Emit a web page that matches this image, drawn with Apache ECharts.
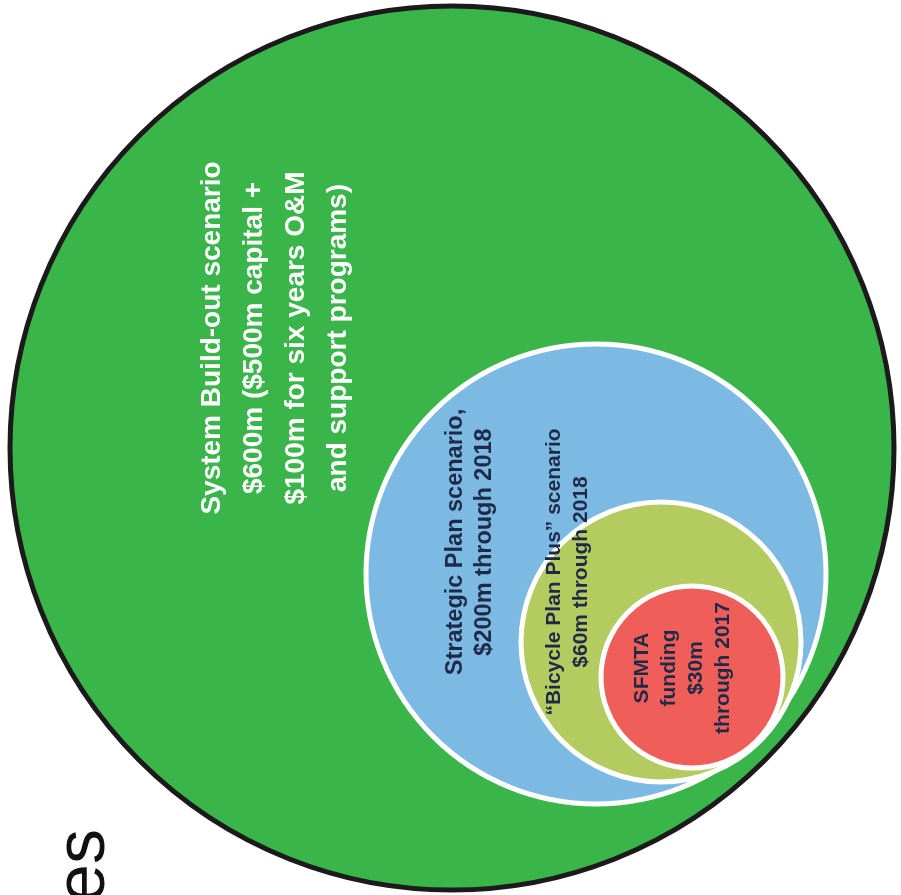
<!DOCTYPE html>
<html><head><meta charset="utf-8">
<script src="https://cdn.jsdelivr.net/npm/echarts@6/dist/echarts.min.js"></script>
<style>html,body{margin:0;padding:0;background:#fff}#c{width:901px;height:895px}</style>
</head><body><div id="c"></div>
<script>
// Scenarios (funding in $m) and their nested-circle geometry, in chart units
const scenarios = ['System Build-out scenario', 'Strategic Plan scenario', 'Bicycle Plan Plus scenario', 'SFMTA funding'];
const fundingM = [600, 200, 60, 30];
const centerX = [452, 596, 661, 692];
const centerY = [448, 574, 642, 677];
const radius = [442, 230, 140, 91];
// Label text (one entry per circle) and label anchor points, in chart units
const labelText = [
  'System Build-out scenario\n$600m ($500m capital +\n$100m for six years O&M\nand support programs)',
  'Strategic Plan scenario,\n$200m through 2018',
  '\u201cBicycle Plan Plus\u201d scenario\n$60m through 2018',
  'SFMTA\nfunding\n$30m\nthrough 2017'
];
const labelX = [275, 470, 568, 683];
const labelY = [338, 542, 572, 668];
const captionText = 'es';
const captionX = [85];
const captionY = [829];

const fills = ['#39b54a', '#7cb9e3', '#b4cc5f', '#f05e5a'];
const strokes = ['#1c1a1a', '#ffffff', '#ffffff', '#ffffff'];
const strokeW = [5, 5, 5, 5];
const textColors = ['#ffffff', '#1f2a48', '#1f2a48', '#1f2a48'];
const fontSizes = [28, 23.5, 21, 21];
const lineHeights = [42, 29, 27, 27];

const chart = echarts.init(document.getElementById('c'), null, {renderer: 'canvas'});
chart.setOption({
  animation: false,
  grid: {left: 0, right: 0, top: 0, bottom: 0},
  xAxis: {type: 'value', min: 0, max: 901, show: false},
  yAxis: {type: 'value', min: 0, max: 895, inverse: true, show: false},
  series: [
    {
      type: 'custom', clip: false,
      data: centerX.map((x, i) => [x, centerY[i], radius[i], fundingM[i]]),
      renderItem: function (params, api) {
        const i = params.dataIndex;
        const c = api.coord([api.value(0), api.value(1)]);
        const r = api.size([api.value(2), 0])[0];
        return {type: 'circle', shape: {cx: c[0], cy: c[1], r: r},
          style: {fill: fills[i], stroke: strokes[i], lineWidth: strokeW[i]}};
      }
    },
    {
      type: 'custom', clip: false,
      data: labelX.map((x, i) => [x, labelY[i]]),
      renderItem: function (params, api) {
        const i = params.dataIndex;
        const c = api.coord([api.value(0), api.value(1)]);
        return {type: 'text', x: c[0], y: c[1], rotation: Math.PI / 2,
          style: {text: labelText[i], fill: textColors[i], fontSize: fontSizes[i], fontWeight: 'bold',
            fontFamily: '"Liberation Sans", Arial, sans-serif', align: 'center', verticalAlign: 'middle',
            lineHeight: lineHeights[i]}};
      }
    },
    {
      type: 'custom', clip: false,
      data: captionX.map((x, i) => [x, captionY[i]]),
      renderItem: function (params, api) {
        const c = api.coord([api.value(0), api.value(1)]);
        return {type: 'text', x: c[0], y: c[1], rotation: Math.PI / 2,
          style: {text: captionText, fill: '#111111', fontSize: 70,
            fontFamily: '"Liberation Sans", Arial, sans-serif', align: 'right', verticalAlign: 'middle'}};
      }
    }
  ]
});
</script></body></html>
